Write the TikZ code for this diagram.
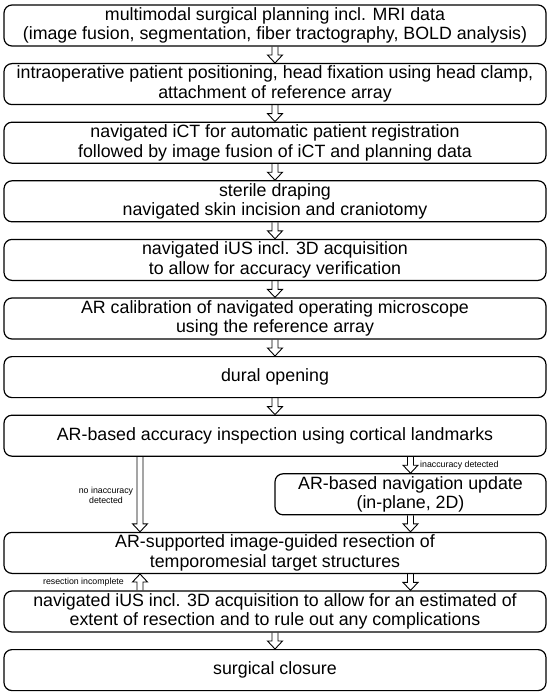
\documentclass[tikz,border=0pt]{standalone}
\usepackage{fontspec}
\setmainfont{Liberation Sans}
\usetikzlibrary{calc}
\begin{document}
\begin{tikzpicture}[x=1pt,y=-1pt,
  box/.style={draw, line width=1.2pt, rounded corners=8pt, minimum width=542pt,
    minimum height=41pt, align=center, inner sep=0pt,
    font=\fontsize{17.8}{19.5}\selectfont},
  lbl/.style={inner sep=0pt, font=\fontsize{8.8}{9.8}\selectfont},
  dnarrow/.style={line width=0.9pt, line join=miter,
    to path={let \p1=(\tikztostart), \p2=(\tikztotarget) in
      (\x1-3pt,\y1) -- (\x1-3pt,\y2+8pt) -- (\x1-7.5pt,\y2+8pt) -- (\x1,\y2)
      -- (\x1+7.5pt,\y2+8pt) -- (\x1+3pt,\y2+8pt) -- (\x1+3pt,\y1)}},
  uparrow/.style={line width=0.9pt, line join=miter,
    to path={let \p1=(\tikztostart), \p2=(\tikztotarget) in
      (\x1-3pt,\y1) -- (\x1-3pt,\y2-8pt) -- (\x1-7.5pt,\y2-8pt) -- (\x1,\y2)
      -- (\x1+7.5pt,\y2-8pt) -- (\x1+3pt,\y2-8pt) -- (\x1+3pt,\y1)}}]
\useasboundingbox (0,0) rectangle (550,698);

\node[box] (b1) at (275,25.5) {multimodal surgical planning incl. MRI data\\(image fusion, segmentation, fiber tractography, BOLD analysis)};
\node[box] (b2) at (275,84.1) {intraoperative patient positioning, head fixation using head clamp,\\attachment of reference array};
\node[box] (b3) at (275,142.7) {navigated iCT for automatic patient registration\\followed by image fusion of iCT and planning data};
\node[box] (b4) at (275,201.3) {sterile draping\\navigated skin incision and craniotomy};
\node[box] (b5) at (275,259.9) {navigated iUS incl. 3D acquisition\\to allow for accuracy verification};
\node[box] (b6) at (275,318.5) {AR calibration of navigated operating microscope\\using the reference array};
\node[box] (b7) at (275,377.1) {dural opening};
\node[box] (b8) at (275,435.7) {AR-based accuracy inspection using cortical landmarks};
\node[box, minimum width=271pt] (b9) at (410.5,494.3) {AR-based navigation update\\(in-plane, 2D)};
\node[box] (b10) at (275,552.9) {AR-supported image-guided resection of\\temporomesial target structures};
\node[box] (b11) at (275,611.5) {navigated iUS incl. 3D acquisition to allow for an estimated of\\extent of resection and to rule out any complications};
\node[box] (b12) at (275,670.1) {surgical closure};

\coordinate (xl) at (140,0);

\draw[dnarrow] (b1.south) to (b2.north);
\draw[dnarrow] (b2.south) to (b3.north);
\draw[dnarrow] (b3.south) to (b4.north);
\draw[dnarrow] (b4.south) to (b5.north);
\draw[dnarrow] (b5.south) to (b6.north);
\draw[dnarrow] (b6.south) to (b7.north);
\draw[dnarrow] (b7.south) to (b8.north);
\draw[dnarrow] (b8.south -| b9.north) to (b9.north);
\draw[dnarrow] (b8.south -| xl) to (b10.north -| xl);
\draw[dnarrow] (b9.south) to (b10.north -| b9.south);
\draw[dnarrow] (b10.south -| b9.south) to (b11.north -| b9.south);
\draw[uparrow] (b11.north -| xl) to (b10.south -| xl);
\draw[dnarrow] (b11.south) to (b12.north);

\node[lbl, anchor=west] (l1) at (420,465) {inaccuracy detected};
\node[lbl, align=center] (l2) at (106,495) {no inaccuracy\\detected};
\node[lbl, anchor=east] (l3) at (124,582) {resection incomplete};
\end{tikzpicture}
\end{document}
